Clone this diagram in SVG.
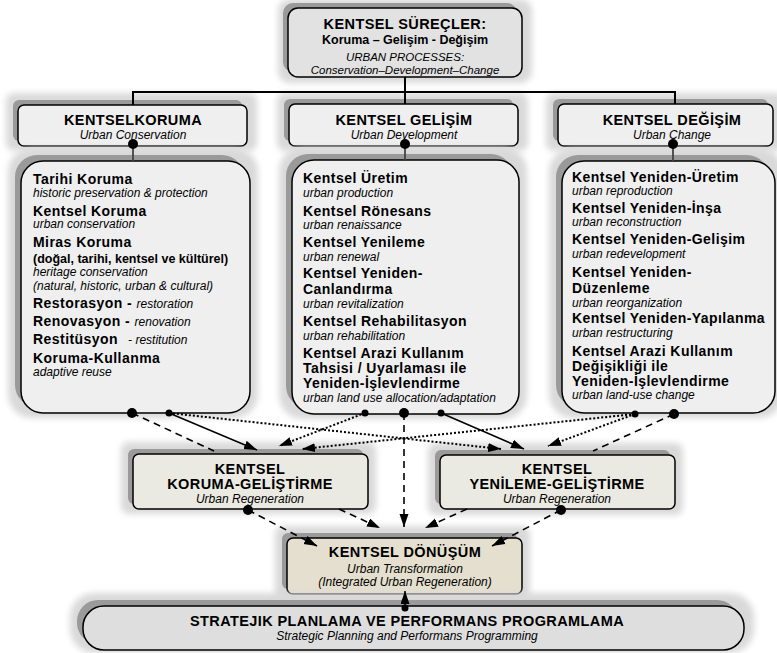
<svg xmlns="http://www.w3.org/2000/svg" width="777" height="653" viewBox="0 0 777 653">
<style>
text{font-family:"Liberation Sans",Arial,Helvetica,sans-serif;fill:#000}
.b{font-weight:bold;font-size:14px;letter-spacing:0.45px}
.b2{font-weight:bold;font-size:12.5px}
.i{font-style:italic;font-size:12px;letter-spacing:0}
.t{font-weight:bold;font-size:14.5px;letter-spacing:0.4px}
.c{text-anchor:middle}
.box{stroke:#000;stroke-width:1.5}
.sh{fill:#9a9a9a}
.halo{fill:#d9d9d9;filter:url(#blur)}
.ln{fill:none;stroke:#000;stroke-width:1.5}
.dash{fill:none;stroke:#000;stroke-width:1.6;stroke-dasharray:7 5}
.dot{fill:none;stroke:#000;stroke-width:2;stroke-dasharray:2 2}
.arr{marker-end:url(#ah)}
</style>
<defs>
<filter id="blur" x="-20%" y="-20%" width="140%" height="140%"><feGaussianBlur stdDeviation="3"/></filter>
<marker id="ah" markerUnits="userSpaceOnUse" markerWidth="14" markerHeight="10" refX="13" refY="4.5" orient="auto"><path d="M0,0 L13,4.5 L0,9 z" fill="#000"/></marker>
</defs>
<rect width="777" height="653" fill="#fff"/>

<g id="top">
<rect class="halo" x="278" y="-1" width="254" height="84" rx="12"/>
<rect class="sh" x="283" y="3" width="234" height="69" rx="10"/>
<rect class="box" x="288" y="8" width="234" height="69" rx="10" fill="#e2e2e2"/>
<text class="t c" x="405" y="29">KENTSEL SÜREÇLER:</text>
<text class="c" x="405" y="44" font-weight="bold" font-size="12.5">Koruma – Gelişim - Değişim</text>
<text class="c" x="405" y="61" font-style="italic" font-size="11.5">URBAN PROCESSES:</text>
<text class="c" x="405" y="74" font-style="italic" font-size="11.5">Conservation–Development–Change</text>
</g>

<g id="h-koruma">
<rect class="halo" x="6" y="93" width="251" height="58" rx="8"/>
<rect class="sh" x="13" y="100" width="229" height="41" rx="6"/>
<rect class="box" x="18" y="105" width="229" height="41" rx="6" fill="#efefef"/>
<text class="t c" x="133" y="125">KENTSELKORUMA</text>
<text class="i c" x="133" y="139">Urban Conservation</text>
</g>
<g id="h-gelisim">
<rect class="halo" x="277" y="93" width="251" height="58" rx="8"/>
<rect class="sh" x="284" y="99" width="229" height="42" rx="6"/>
<rect class="box" x="289" y="104" width="229" height="42" rx="6" fill="#efefef"/>
<text class="t c" x="404" y="125">KENTSEL GELİŞİM</text>
<text class="i c" x="404" y="139">Urban Development</text>
</g>
<g id="h-degisim">
<rect class="halo" x="546" y="93" width="237" height="58" rx="8"/>
<rect class="sh" x="553" y="99" width="215" height="42" rx="6"/>
<rect class="box" x="558" y="104" width="215" height="42" rx="6" fill="#efefef"/>
<text class="t c" x="672" y="125">KENTSEL DEĞİŞİM</text>
<text class="i c" x="672" y="139">Urban Change</text>
</g>

<g id="c-koruma">
<rect class="halo" x="8" y="148" width="250" height="270" rx="24"/>
<rect class="sh" x="15" y="155" width="229" height="252" rx="22"/>
<rect class="box" x="21" y="161" width="229" height="252" rx="22" fill="#efefef"/>
<text class="b" x="33" y="184">Tarihi Koruma</text>
<text class="i" x="33" y="196.5">historic preservation &amp; protection</text>
<text class="b" x="33" y="215.5">Kentsel Koruma</text>
<text class="i" x="33" y="228">urban conservation</text>
<text class="b" x="33" y="247">Miras Koruma</text>
<text class="b2" x="33" y="262.5">(doğal, tarihi, kentsel ve kültürel)</text>
<text class="i" x="33" y="276">heritage conservation</text>
<text class="i" x="33" y="290">(natural, historic, urban &amp; cultural)</text>
<text x="33" y="308"><tspan class="b">Restorasyon - </tspan><tspan class="i">restoration</tspan></text>
<text x="33" y="326"><tspan class="b">Renovasyon - </tspan><tspan class="i">renovation</tspan></text>
<text x="33" y="344" xml:space="preserve"><tspan class="b">Restitüsyon</tspan><tspan class="i">   - restitution</tspan></text>
<text class="b" x="33" y="363">Koruma-Kullanma</text>
<text class="i" x="33" y="376">adaptive reuse</text>
</g>

<g id="c-gelisim">
<rect class="halo" x="279" y="147" width="248" height="272" rx="24"/>
<rect class="sh" x="286" y="154" width="227" height="254" rx="22"/>
<rect class="box" x="292" y="160" width="227" height="254" rx="22" fill="#efefef"/>
<text class="b" x="303" y="183">Kentsel Üretim</text>
<text class="i" x="303" y="197">urban production</text>
<text class="b" x="303" y="215.5">Kentsel Rönesans</text>
<text class="i" x="303" y="228.5">urban renaissance</text>
<text class="b" x="303" y="247">Kentsel Yenileme</text>
<text class="i" x="303" y="261">urban renewal</text>
<text class="b" x="303" y="278">Kentsel Yeniden-</text>
<text class="b" x="303" y="294">Canlandırma</text>
<text class="i" x="303" y="307.5">urban revitalization</text>
<text class="b" x="303" y="326">Kentsel Rehabilitasyon</text>
<text class="i" x="303" y="339.5">urban rehabilitation</text>
<text class="b" x="303" y="358">Kentsel Arazi Kullanım</text>
<text class="b" x="303" y="373">Tahsisi / Uyarlaması ile</text>
<text class="b" x="303" y="388">Yeniden-İşlevlendirme</text>
<text class="i" x="303" y="401.5">urban land use allocation/adaptation</text>
</g>

<g id="c-degisim">
<rect class="halo" x="549" y="148" width="234" height="270" rx="24"/>
<rect class="sh" x="556" y="155" width="213" height="252" rx="22"/>
<rect class="box" x="562" y="161" width="213" height="252" rx="22" fill="#efefef"/>
<text class="b" x="572" y="182">Kentsel Yeniden-Üretim</text>
<text class="i" x="572" y="194.5">urban reproduction</text>
<text class="b" x="572" y="213">Kentsel Yeniden-İnşa</text>
<text class="i" x="572" y="225.5">urban reconstruction</text>
<text class="b" x="572" y="244">Kentsel Yeniden-Gelişim</text>
<text class="i" x="572" y="258">urban redevelopment</text>
<text class="b" x="572" y="277">Kentsel Yeniden-</text>
<text class="b" x="572" y="293">Düzenleme</text>
<text class="i" x="572" y="306.5">urban reorganization</text>
<text class="b" x="572" y="323">Kentsel Yeniden-Yapılanma</text>
<text class="i" x="572" y="337">urban restructuring</text>
<text class="b" x="572" y="356">Kentsel Arazi Kullanım</text>
<text class="b" x="572" y="371">Değişikliği ile</text>
<text class="b" x="572" y="386">Yeniden-İşlevlendirme</text>
<text class="i" x="572" y="398.5">urban land-use change</text>
</g>

<g id="r-koruma">
<rect class="halo" x="121" y="442" width="255" height="72" rx="8"/>
<rect class="sh" x="128" y="449" width="235" height="55" rx="6"/>
<rect class="box" x="133" y="454" width="235" height="55" rx="6" fill="#ebeae2"/>
<text class="t c" x="250" y="474">KENTSEL</text>
<text class="t c" x="250" y="489">KORUMA-GELİŞTİRME</text>
<text class="i c" x="250" y="502.5">Urban Regeneration</text>
</g>
<g id="r-yenileme">
<rect class="halo" x="428" y="443" width="255" height="72" rx="8"/>
<rect class="sh" x="435" y="450" width="235" height="54" rx="6"/>
<rect class="box" x="440" y="455" width="235" height="54" rx="6" fill="#ebeae2"/>
<text class="t c" x="557" y="474">KENTSEL</text>
<text class="t c" x="557" y="489">YENİLEME-GELİŞTİRME</text>
<text class="i c" x="557" y="502.5">Urban Regeneration</text>
</g>

<g id="donusum">
<rect class="halo" x="275" y="526" width="255" height="74" rx="8"/>
<rect class="sh" x="282" y="533" width="235" height="56" rx="6"/>
<rect class="box" x="287" y="538" width="235" height="56" rx="6" fill="#e4dfce"/>
<text class="t c" x="405" y="557">KENTSEL DÖNÜŞÜM</text>
<text class="i c" x="405" y="572.5">Urban Transformation</text>
<text class="i c" x="405" y="586">(Integrated Urban Regeneration)</text>
</g>

<g id="stratejik">
<rect class="halo" x="70" y="593" width="684" height="60" rx="24"/>
<rect class="sh" x="77" y="600" width="661" height="44" rx="21"/>
<rect class="box" x="83" y="606" width="661" height="44" rx="21" fill="#dedede"/>
<text class="t c" x="407" y="626">STRATEJIK PLANLAMA VE PERFORMANS PROGRAMLAMA</text>
<text class="i c" x="407" y="639.5">Strategic Planning and Performans Programming</text>
</g>

<g id="connectors">
<path d="M133,105 V92 H675 V104" fill="none" stroke="#000" stroke-width="2"/>
<path d="M405,77 V104" fill="none" stroke="#000" stroke-width="2"/>
<path d="M133,144 V161 M405,144 V160 M673,144 V161" fill="none" stroke="#444" stroke-width="1.8"/>
<circle cx="133" cy="144" r="5"/>
<circle cx="405" cy="144" r="5"/>
<circle cx="673" cy="144" r="5"/>

<path class="ln arr" d="M169,413 L257,450"/>
<path class="dot arr" d="M365,413 L279,446"/>
<path class="dot arr" d="M635,414 L302,449"/>
<path class="dot arr" d="M169,413 L501,449"/>
<path class="ln arr" d="M441,413 L524,449"/>
<path class="dot arr" d="M635,414 L548,446"/>

<path class="dash arr" d="M132,413 L214,451 M339,509 L380,528"/>
<path class="dash arr" d="M404,413 L404,527"/>
<path class="dash arr" d="M674,414 L593,451 M467,509 L425,528"/>
<path class="dash arr" d="M248,510 L317,546"/>
<path class="dash arr" d="M561,510 L492,546"/>
<path class="ln arr" d="M405,608 L405,591"/>

<circle cx="132" cy="413" r="5"/>
<circle cx="169" cy="413" r="3.5"/>
<circle cx="365" cy="413" r="3.5"/>
<circle cx="404" cy="413" r="5"/>
<circle cx="441" cy="413" r="3.5"/>
<circle cx="635" cy="414" r="3.5"/>
<circle cx="674" cy="414" r="5"/>
<circle cx="248" cy="510" r="5"/>
<circle cx="561" cy="510" r="5"/>
<circle cx="405" cy="608" r="3.5"/>
</g>
</svg>
